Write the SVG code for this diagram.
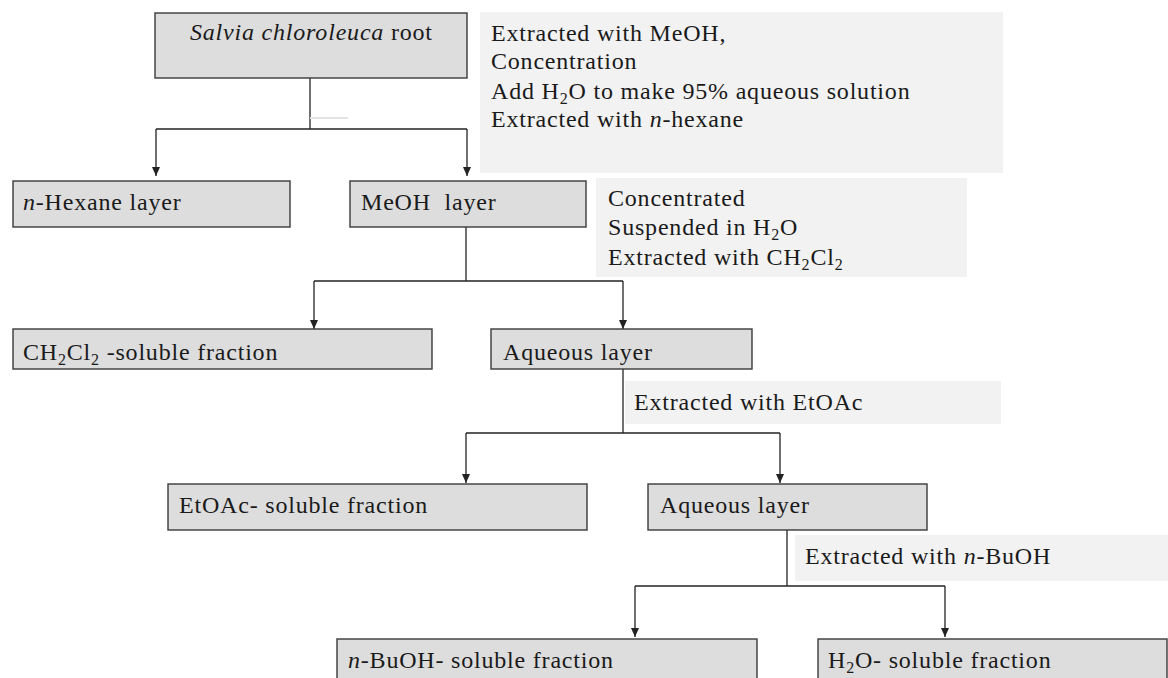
<svg xmlns="http://www.w3.org/2000/svg" width="1168" height="678" viewBox="0 0 1168 678">
  <style>
    .box { fill: #dddddd; stroke: #3a3a3a; stroke-width: 1.4; }
    .note { fill: #f2f2f2; stroke: none; }
    .t { font-family: "Liberation Serif", "Times New Roman", serif; font-size: 24px; letter-spacing: 0.8px; fill: #1a1a1a; }
    .i { font-style: italic; }
    .sub { font-size: 16px; }
    .con { fill: none; stroke: #222222; stroke-width: 1.3; }
  </style>
  <defs>
    <marker id="arrow" markerUnits="userSpaceOnUse" markerWidth="10" markerHeight="10" viewBox="0 0 10 10" refX="9" refY="5" orient="auto">
      <path d="M0,1 L9,5 L0,9 z" fill="#222222"/>
    </marker>
  </defs>
  <rect width="1168" height="678" fill="#ffffff"/>

  <g id="connectors">
    <path class="con" d="M310,78 V129"/>
    <path class="con" d="M156,129 H467"/>
    <path class="con" d="M156,129 V176" marker-end="url(#arrow)"/>
    <path class="con" d="M467,129 V176" marker-end="url(#arrow)"/>
    <line x1="310" y1="118" x2="348" y2="118" stroke="#e4e4e4" stroke-width="2"/>

    <path class="con" d="M466,227 V281"/>
    <path class="con" d="M314,281 H623"/>
    <path class="con" d="M314,281 V329" marker-end="url(#arrow)"/>
    <path class="con" d="M623,281 V329" marker-end="url(#arrow)"/>

    <path class="con" d="M623,369 V433"/>
    <path class="con" d="M466,433 H780"/>
    <path class="con" d="M466,433 V483" marker-end="url(#arrow)"/>
    <path class="con" d="M780,433 V483" marker-end="url(#arrow)"/>

    <path class="con" d="M787,530 V586"/>
    <path class="con" d="M635,586 H945"/>
    <path class="con" d="M635,586 V637" marker-end="url(#arrow)"/>
    <path class="con" d="M945,586 V637" marker-end="url(#arrow)"/>
  </g>

  <g id="root">
    <rect class="box" x="155" y="13" width="312" height="65"/>
    <text class="t" x="190" y="40"><tspan class="i">Salvia chloroleuca</tspan> root</text>
  </g>

  <g id="note1">
    <rect class="note" x="480" y="12" width="523" height="161"/>
    <text class="t" x="491" y="41">Extracted with MeOH,</text>
    <text class="t" x="491" y="69">Concentration</text>
    <text class="t" x="491" y="99">Add H<tspan class="sub" dy="5">2</tspan><tspan dy="-5">O to make 95% aqueous solution</tspan></text>
    <text class="t" x="491" y="127">Extracted with <tspan class="i">n</tspan>-hexane</text>
  </g>

  <g id="hexane">
    <rect class="box" x="13" y="181" width="277" height="46"/>
    <text class="t" x="23" y="210"><tspan class="i">n</tspan>-Hexane layer</text>
  </g>

  <g id="meoh">
    <rect class="box" x="350" y="181" width="236" height="46"/>
    <text class="t" x="361" y="210">MeOH&#160; layer</text>
  </g>

  <g id="note2">
    <rect class="note" x="596" y="178" width="371" height="99"/>
    <text class="t" x="608" y="206">Concentrated</text>
    <text class="t" x="608" y="235">Suspended in H<tspan class="sub" dy="5">2</tspan><tspan dy="-5">O</tspan></text>
    <text class="t" x="608" y="265">Extracted with CH<tspan class="sub" dy="5">2</tspan><tspan dy="-5">Cl</tspan><tspan class="sub" dy="5">2</tspan></text>
  </g>

  <g id="ch2cl2">
    <rect class="box" x="13" y="329" width="419" height="40"/>
    <text class="t" x="23" y="360">CH<tspan class="sub" dy="5">2</tspan><tspan dy="-5">Cl</tspan><tspan class="sub" dy="5">2</tspan><tspan dy="-5"> -soluble fraction</tspan></text>
  </g>

  <g id="aqueous1">
    <rect class="box" x="491" y="329" width="261" height="40"/>
    <text class="t" x="503" y="360">Aqueous layer</text>
  </g>

  <g id="note3">
    <rect class="note" x="625" y="381" width="376" height="43"/>
    <text class="t" x="634" y="410">Extracted with EtOAc</text>
  </g>

  <g id="etoac">
    <rect class="box" x="168" y="484" width="419" height="46"/>
    <text class="t" x="179" y="513">EtOAc- soluble fraction</text>
  </g>

  <g id="aqueous2">
    <rect class="box" x="648" y="484" width="279" height="46"/>
    <text class="t" x="660" y="513">Aqueous layer</text>
  </g>

  <g id="note4">
    <rect class="note" x="795" y="535" width="373" height="46"/>
    <text class="t" x="805" y="564">Extracted with <tspan class="i">n</tspan>-BuOH</text>
  </g>

  <g id="butanol">
    <rect class="box" x="337" y="639" width="420" height="60"/>
    <text class="t" x="348" y="668"><tspan class="i">n</tspan>-BuOH- soluble fraction</text>
  </g>

  <g id="water">
    <rect class="box" x="818" y="639" width="349" height="60"/>
    <text class="t" x="828" y="668">H<tspan class="sub" dy="5">2</tspan><tspan dy="-5">O- soluble fraction</tspan></text>
  </g>
</svg>
